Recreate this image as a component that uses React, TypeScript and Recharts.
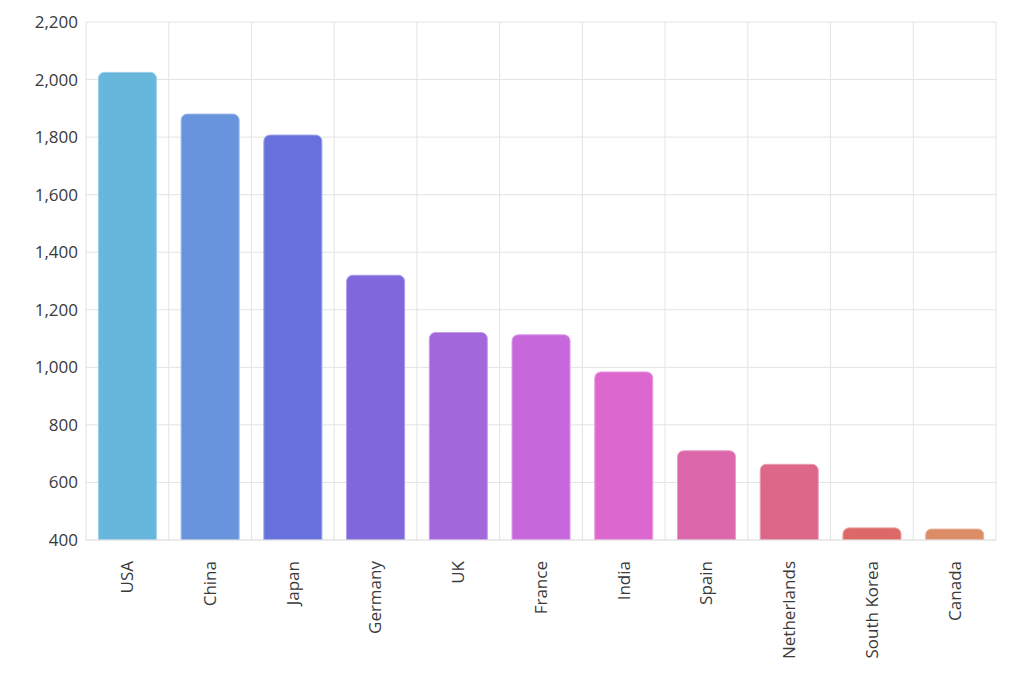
import { BarChart, Bar, Cell, XAxis, YAxis, CartesianGrid } from 'recharts';

const countries = ['USA', 'China', 'Japan', 'Germany', 'UK', 'France', 'India', 'Spain', 'Netherlands', 'South Korea', 'Canada'];
const visits = [2025, 1880, 1807, 1320, 1121, 1113, 984, 710, 663, 442, 438];
const yTicks = [400, 600, 800, 1000, 1200, 1400, 1600, 1800, 2000, 2200];

const COLORS = ['#67b7dc', '#6794dc', '#6771dc', '#8067dc', '#a367dc', '#c767dc', '#dc67ce', '#dc67ab', '#dc6788', '#dc6967', '#dc8c67'];

const FONT = '"Open Sans", sans-serif';
const TEXT = '#3a3a3a';

// lighter edge, like the reference bars
function lighten(hex: string, amt: number) {
  const n = parseInt(hex.slice(1), 16);
  const mix = (c: number) => Math.round(c + (255 - c) * amt);
  const r = mix((n >> 16) & 255);
  const g = mix((n >> 8) & 255);
  const b = mix(n & 255);
  return `rgb(${r},${g},${b})`;
}

const data = countries.map((country, i) => ({ country, visits: visits[i] }));

function CountryTick({ x, y, payload }: any) {
  return (
    <g transform={`translate(${x},${y})`}>
      <text
        transform="rotate(-90)"
        x={-13}
        dy="0.35em"
        textAnchor="end"
        fill={TEXT}
        fontSize={17}
        fontFamily={FONT}
      >
        {payload.value}
      </text>
    </g>
  );
}

export default function App() {
  return (
    <div style={{ position: 'absolute', left: 0, top: 0, background: '#fff' }}>
      <BarChart
        width={1024}
        height={690}
        data={data}
        margin={{ top: 22, right: 28, left: 0, bottom: 0 }}
        barCategoryGap="15%"
      >
        <CartesianGrid
          stroke="#e3e3e3"
          verticalCoordinatesGenerator={({ offset }: any) =>
            Array.from({ length: countries.length + 1 }, (_, i) => offset.left + (offset.width * i) / countries.length)
          }
        />
        <XAxis
          dataKey="country"
          interval={0}
          height={150}
          axisLine={{ stroke: '#e3e3e3' }}
          tickLine={false}
          tick={<CountryTick />}
        />
        <YAxis
          width={86}
          domain={[400, 2200]}
          ticks={yTicks}
          allowDataOverflow
          axisLine={false}
          tickLine={false}
          tickSize={0}
          tickMargin={8}
          tick={{ fill: TEXT, fontSize: 17, fontFamily: FONT }}
          tickFormatter={(v: number) => v.toLocaleString('en-US')}
        />
        <Bar dataKey="visits" radius={[6, 6, 0, 0]} isAnimationActive={false}>
          {data.map((d, i) => (
            <Cell key={d.country} fill={COLORS[i]} stroke={lighten(COLORS[i], 0.35)} strokeWidth={1} />
          ))}
        </Bar>
      </BarChart>
    </div>
  );
}
